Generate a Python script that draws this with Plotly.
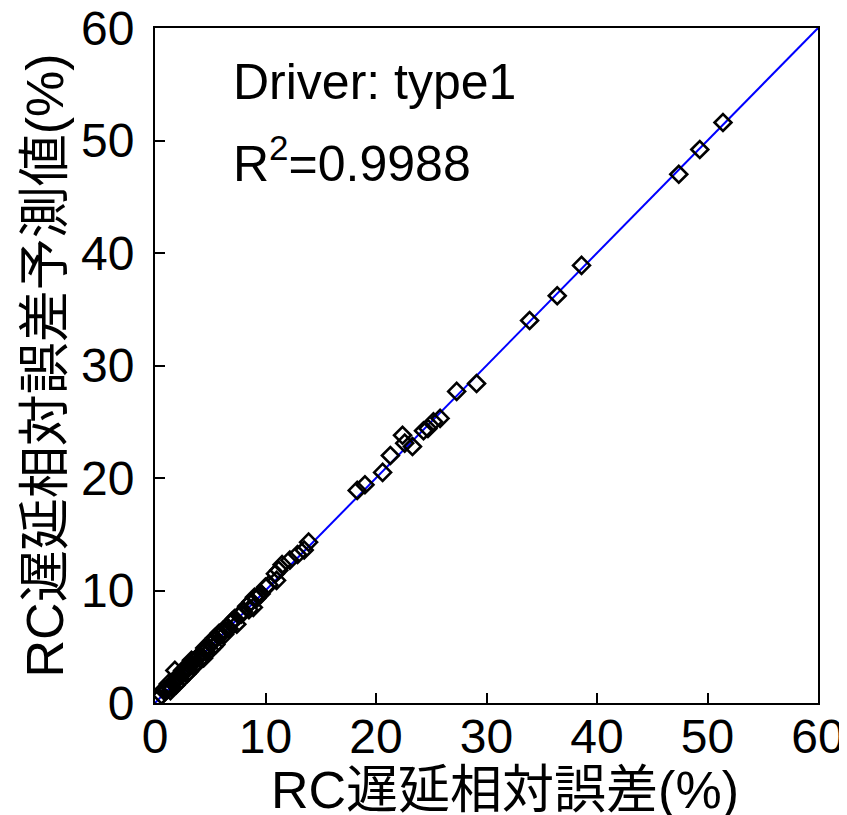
import plotly.graph_objects as go

# measured RC delay relative error (%) vs predicted (%)
measured = [51.4, 49.3, 47.4, 38.6, 36.4, 33.9, 29.1, 27.3, 25.8, 25.2, 24.7, 24.3,
            23.3, 22.6, 22.4, 21.3, 20.6, 19.0, 18.3,
            13.9, 13.5, 12.9, 12.2, 11.5, 11.2, 10.9, 11.0, 10.3, 10.0, 9.6, 9.4,
            9.0, 8.7, 8.3, 8.9, 8.0, 7.8, 7.6, 7.2, 7.4, 6.9, 6.7, 6.5, 6.2, 6.0,
            5.7, 5.4, 5.5, 5.1, 4.8, 4.6, 4.3, 4.0, 3.8, 3.6, 3.5, 3.2, 3.0, 3.3,
            2.8, 2.6, 2.4, 2.2, 2.0, 1.8, 1.6, 1.5, 1.3, 1.1, 0.9, 0.6, 0.3, 1.8,
            2.3, 2.9, 3.9, 4.4, 5.0, 5.8, 6.3, 7.0, 8.5, 9.2, 2.1, 2.7, 3.4, 4.1,
            1.2, 1.9, 2.5, 3.1, 3.7, 4.5, 5.3, 6.1, 0.8, 1.4]
predicted = [51.6, 49.2, 47.0, 38.9, 36.2, 34.0, 28.4, 27.7, 25.3, 25.0, 24.4, 24.2,
             22.8, 23.1, 23.8, 22.0, 20.5, 19.4, 18.9,
             14.3, 13.6, 13.2, 12.7, 12.3, 11.8, 11.5, 10.9, 10.5, 10.3, 9.7, 9.6,
             9.4, 9.0, 8.6, 8.5, 8.1, 7.9, 7.8, 7.5, 7.0, 7.1, 6.6, 6.7, 6.5, 6.1,
             6.0, 5.8, 5.2, 5.3, 5.0, 4.6, 4.5, 4.2, 4.0, 3.8, 3.3, 3.5, 3.1, 3.8,
             3.0, 2.7, 2.5, 2.4, 2.1, 1.9, 1.8, 1.4, 1.4, 1.2, 1.0, 0.7, 0.4, 2.9,
             2.0, 2.6, 4.1, 4.0, 4.7, 6.2, 6.1, 7.3, 8.3, 9.3, 2.4, 2.9, 3.7, 3.9,
             1.7, 1.6, 2.9, 2.8, 3.4, 4.9, 5.0, 6.4, 1.2, 1.1]
line_x = [0, 60]
line_y = [0, 60]
ticks = [0, 10, 20, 30, 40, 50, 60]

font_family = "Liberation Sans, Arial, Noto Sans CJK JP, sans-serif"

fig = go.Figure()
fig.add_trace(go.Scatter(
    x=line_x, y=line_y, mode="lines",
    line=dict(color="#0000FF", width=2), showlegend=False, hoverinfo="skip"))
fig.add_trace(go.Scatter(
    x=measured, y=predicted, mode="markers",
    marker=dict(symbol="diamond-open", size=13, color="black",
                line=dict(color="black", width=2.6)),
    showlegend=False))

axis_common = dict(
    range=[0, 60], tickmode="array", tickvals=ticks,
    ticktext=[str(t) for t in ticks],
    ticks="inside", ticklen=10, tickwidth=2, tickcolor="black",
    showline=True, linewidth=2, linecolor="black", mirror=True,
    showgrid=False, zeroline=False, automargin=False,
    ticklabeloverflow="allow",
    tickfont=dict(family=font_family, size=48, color="black"),
)

# the page body has an 8px default margin; compensate in size and margins
fig.update_layout(
    width=839, height=807,
    margin=dict(l=147, r=29, t=20, b=112),
    paper_bgcolor="white", plot_bgcolor="white",
    xaxis=dict(**axis_common, ticklabelstandoff=-10),
    yaxis=dict(**axis_common, ticklabelstandoff=9),
    font=dict(family=font_family, color="black"),
    annotations=[
        dict(text="Driver: type1", xref="paper", yref="paper",
             x=0.114, y=0.92, xanchor="left", yanchor="middle",
             showarrow=False, font=dict(size=50, family=font_family, color="black")),
        dict(text="R<sup>2</sup>=0.9988", xref="paper", yref="paper",
             x=0.114, y=0.804, xanchor="left", yanchor="middle",
             showarrow=False, font=dict(size=50, family=font_family, color="black")),
        dict(text="RC遅延相対誤差(%)", xref="paper", yref="paper",
             x=0.528, y=-0.129, xanchor="center", yanchor="middle",
             showarrow=False, font=dict(size=52, family=font_family, color="black")),
        dict(text="RC遅延相対誤差予測値(%)", xref="paper", yref="paper",
             x=-0.166, y=0.5, xanchor="center", yanchor="middle", textangle=-90,
             showarrow=False, font=dict(size=52, family=font_family, color="black")),
    ],
)

fig.write_html("out.html")
